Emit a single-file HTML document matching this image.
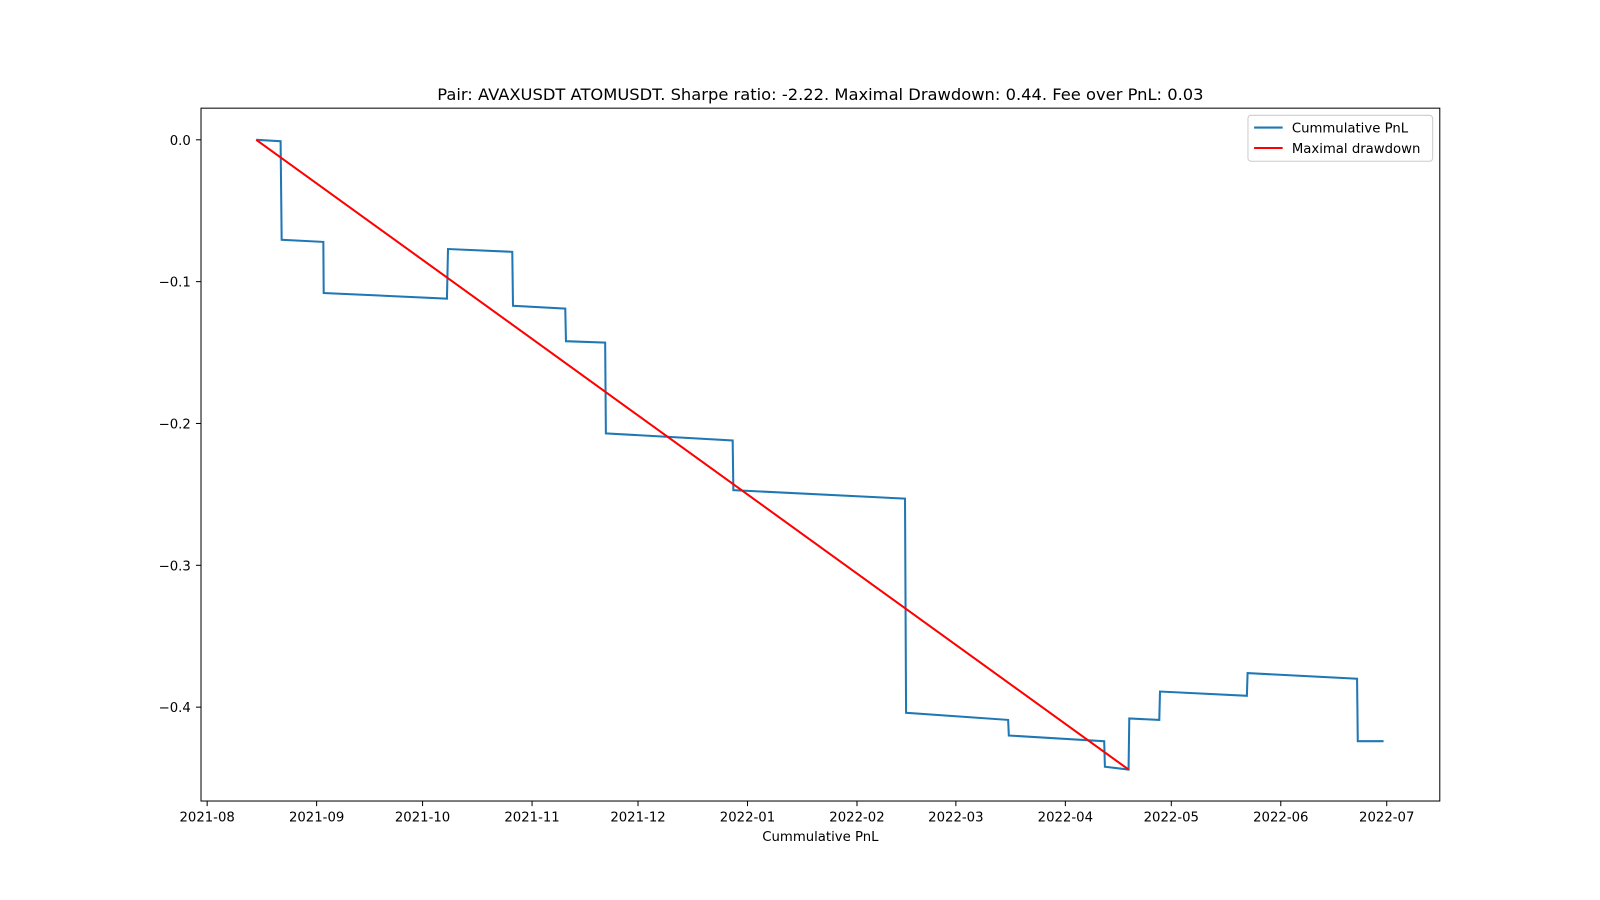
<!DOCTYPE html>
<html><head><meta charset="utf-8"><style>
html,body{margin:0;padding:0;background:#fff;overflow:hidden;width:1600px;height:900px;font-family:"Liberation Sans","DejaVu Sans",sans-serif;}
svg{display:block;}
svg text{font-family:"DejaVu Sans","Liberation Sans",sans-serif;}
</style></head><body>
<svg id="chart" width="1600" height="900" viewBox="0 0 1568 882" xmlns="http://www.w3.org/2000/svg">
<rect width="1568" height="882" fill="#fff"/>
<text x="804" y="98" text-anchor="middle" font-size="16">Pair: AVAXUSDT ATOMUSDT. Sharpe ratio: -2.22. Maximal Drawdown: 0.44. Fee over PnL: 0.03</text>
<g id="ticks"></g>
<g id="series"></g>
<rect x="197" y="106" width="1214" height="679" fill="none" stroke="#000" stroke-width="1"/>
<text x="804" y="824" text-anchor="middle" font-size="13">Cummulative PnL</text>
<g>
<rect x="1223" y="113" width="181" height="45" rx="3" fill="#fff" stroke="#ccc"/>
<line x1="1229" y1="125" x2="1257" y2="125" stroke="#1f77b4" stroke-width="2"/>
<text x="1266" y="130" font-size="13">Cummulative PnL</text>
<line x1="1229" y1="145" x2="1257" y2="145" stroke="#ff0000" stroke-width="2"/>
<text x="1266" y="150" font-size="13">Maximal drawdown</text>
</g>
</svg>
<script>
// x in days since 2021-08-01
const pnlDays=[13.9,20.8,21.1,32.9,33.0,67.9,68.2,86.4,86.6,101.4,101.6,112.7,112.9,148.8,149.0,197.6,197.9,226.8,227.0,254.0,254.2,260.9,261.1,269.6,269.8,294.4,294.6,325.6,325.8,333.1];
const pnlValues=[0,-0.001,-0.0705,-0.072,-0.108,-0.112,-0.077,-0.079,-0.117,-0.119,-0.142,-0.143,-0.207,-0.212,-0.247,-0.253,-0.404,-0.409,-0.420,-0.424,-0.442,-0.444,-0.408,-0.409,-0.389,-0.392,-0.376,-0.380,-0.424,-0.424];
const ddDays=[13.9,260.9];
const ddValues=[0,-0.444];
const xTickDays=[0,31,61,92,122,153,184,212,243,273,304,334];
const xTickLabels=["2021-08","2021-09","2021-10","2021-11","2021-12","2022-01","2022-02","2022-03","2022-04","2022-05","2022-06","2022-07"];
const yTickValues=[0,-0.1,-0.2,-0.3,-0.4];
const yTickLabels=["0.0","\u22120.1","\u22120.2","\u22120.3","\u22120.4"];
const NS="http://www.w3.org/2000/svg";
const xs=d=>203+d*(1156/334);
const ys=v=>137-v*1390;
const tg=document.getElementById('ticks');
xTickDays.forEach((d,i)=>{
 const l=document.createElementNS(NS,'line');
 l.setAttribute('x1',xs(d));l.setAttribute('x2',xs(d));l.setAttribute('y1',785);l.setAttribute('y2',790);l.setAttribute('stroke','#000');
 
 
 tg.appendChild(l);
 const t=document.createElementNS(NS,'text');
 t.setAttribute('x',xs(d));t.setAttribute('y',805);t.setAttribute('text-anchor','middle');t.setAttribute('font-size','13');
 t.textContent=xTickLabels[i];
 
 
 tg.appendChild(t);
});
yTickValues.forEach((v,i)=>{
 const l=document.createElementNS(NS,'line');
 l.setAttribute('x1',192);l.setAttribute('x2',197);l.setAttribute('y1',ys(v));l.setAttribute('y2',ys(v));l.setAttribute('stroke','#000');
 
 
 tg.appendChild(l);
 const t=document.createElementNS(NS,'text');
 t.setAttribute('x',187);t.setAttribute('y',ys(v)+5);t.setAttribute('text-anchor','end');t.setAttribute('font-size','13');
 t.textContent=yTickLabels[i];
 
 
 tg.appendChild(t);
});
const sg=document.getElementById('series');
function poly(dx,dy,color,name){
 const p=document.createElementNS(NS,'polyline');
 p.setAttribute('points',dx.map((d,i)=>xs(d)+','+ys(dy[i])).join(' '));
 p.setAttribute('fill','none');p.setAttribute('stroke',color);p.setAttribute('stroke-width','2');
 
 
 sg.appendChild(p);
}
poly(pnlDays,pnlValues,'#1f77b4','cumulative-pnl-line');
poly(ddDays,ddValues,'#ff0000','max-drawdown-line');
</script>
</body></html>
